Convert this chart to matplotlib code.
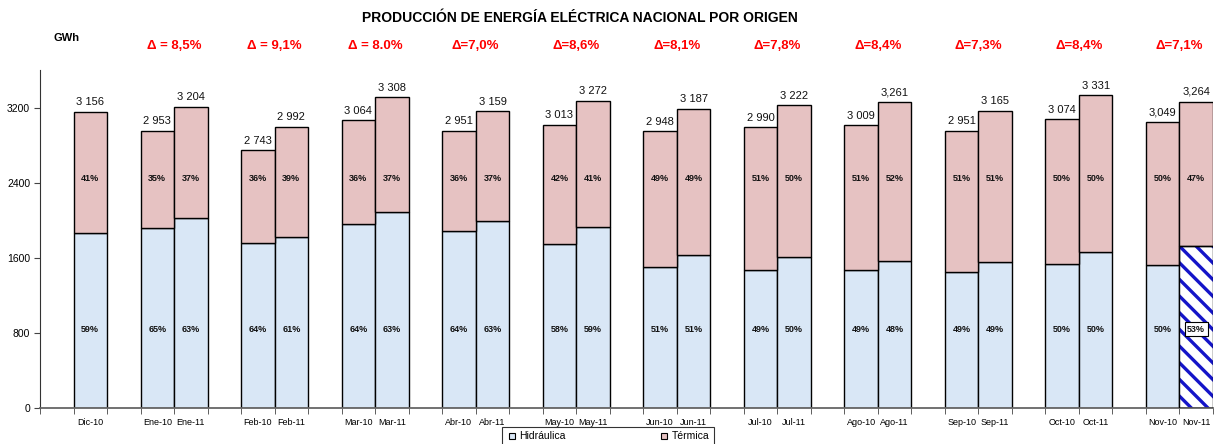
import matplotlib
matplotlib.use("Agg")
import matplotlib.pyplot as plt
from matplotlib.lines import Line2D
import numpy as np

plt.rcParams['font.family'] = ['Liberation Sans', 'DejaVu Sans']
plt.rcParams['hatch.linewidth'] = 2.4

categories = ["Dic-10",
              "Ene-10", "Ene-11", "Feb-10", "Feb-11", "Mar-10", "Mar-11",
              "Abr-10", "Abr-11", "May-10", "May-11", "Jun-10", "Jun-11",
              "Jul-10", "Jul-11", "Ago-10", "Ago-11", "Sep-10", "Sep-11",
              "Oct-10", "Oct-11", "Nov-10", "Nov-11"]
totals = [3156, 2953, 3204, 2743, 2992, 3064, 3308, 2951, 3159, 3013, 3272,
          2948, 3187, 2990, 3222, 3009, 3261, 2951, 3165, 3074, 3331, 3049, 3264]
hydro = [1862, 1919, 2019, 1755, 1825, 1961, 2084, 1889, 1990, 1748, 1930,
         1503, 1625, 1465, 1611, 1474, 1565, 1446, 1551, 1537, 1666, 1525, 1730]
total_labels = ["3 156", "2 953", "3 204", "2 743", "2 992", "3 064", "3 308",
                "2 951", "3 159", "3 013", "3 272", "2 948", "3 187", "2 990",
                "3 222", "3 009", "3,261", "2 951", "3 165", "3 074", "3 331",
                "3,049", "3,264"]
hydro_pct = ["59%", "65%", "63%", "64%", "61%", "64%", "63%", "64%", "63%",
             "58%", "59%", "51%", "51%", "49%", "50%", "49%", "48%", "49%",
             "49%", "50%", "50%", "50%", "53%"]
thermal_pct = ["41%", "35%", "37%", "36%", "39%", "36%", "37%", "36%", "37%",
               "42%", "41%", "49%", "49%", "51%", "50%", "51%", "52%", "51%",
               "51%", "50%", "50%", "50%", "47%"]
deltas = ["Δ = 8,5%", "Δ = 9,1%", "Δ = 8.0%", "Δ=7,0%", "Δ=8,6%", "Δ=8,1%",
          "Δ=7,8%", "Δ=8,4%", "Δ=7,3%", "Δ=8,4%", "Δ=7,1%"]
yticks = [0, 800, 1600, 2400, 3200]

thermal = [t - h for t, h in zip(totals, hydro)]

# slot layout: blank, Dic-10, then (blank, x-10, x-11) * 11
pos = [1] + [s for i in range(11) for s in (3 + 3 * i, 4 + 3 * i)]
pos = np.array(pos, dtype=float)

HYD = '#d9e7f6'
TER = '#e6c2c2'

fig = plt.figure(figsize=(12.18, 4.44), dpi=100)
ax = fig.add_axes([40 / 1218, 36 / 444, 1173 / 1218, 338 / 444])

n = len(categories)
for i in range(n):
    if i == n - 1:
        ax.bar(pos[i], hydro[i], width=1.0, color='white', edgecolor='#1414c8',
               hatch='\\\\', linewidth=0, zorder=2)
        ax.bar(pos[i], hydro[i], width=1.0, color='none', edgecolor='black',
               linewidth=1.0, zorder=3)
    else:
        ax.bar(pos[i], hydro[i], width=1.0, color=HYD, edgecolor='black',
               linewidth=1.0, zorder=2)
ax.bar(pos, thermal, bottom=hydro, width=1.0, color=TER, edgecolor='black',
       linewidth=1.0, zorder=2)

for i in range(n):
    ax.text(pos[i], totals[i] + 50, total_labels[i], ha='center', va='bottom',
            fontsize=8, color='#111111')
    ax.text(pos[i], 2440, thermal_pct[i], ha='center', va='center',
            fontsize=6.5, fontweight='bold', color='#111111', zorder=4)
    if i == n - 1:
        ax.text(pos[i], 840, hydro_pct[i], ha='center', va='center',
                fontsize=6.5, fontweight='bold', color='#111111', zorder=4,
                bbox=dict(boxstyle='square,pad=0.3', fc='white', ec='black', lw=0.8))
    else:
        ax.text(pos[i], 840, hydro_pct[i], ha='center', va='center',
                fontsize=6.5, fontweight='bold', color='#111111', zorder=4)

for k in range(11):
    xc = (pos[1 + 2 * k] + pos[2 + 2 * k]) / 2
    ax.text(xc, 3860, deltas[k], ha='center', va='center', fontsize=9.5,
            fontweight='bold', color='#ff0000', clip_on=False)

ax.set_xlim(-0.5, 34.5)
ax.set_ylim(0, 3600)
ax.set_yticks(yticks)
ax.set_yticklabels([str(v) for v in yticks], fontsize=7.5)
ax.set_xticks(pos)
ax.set_xticklabels(categories, fontsize=6.5)
ax.set_xticks(np.arange(-0.5, 35, 1.0), minor=True)
ax.tick_params(axis='x', which='major', length=0, pad=7)
ax.tick_params(axis='x', which='minor', length=4, direction='out', color='#444444')
ax.tick_params(axis='y', length=4, direction='out', color='#444444', pad=3)

for s in ['top', 'right']:
    ax.spines[s].set_visible(False)
ax.spines['left'].set_color('#333333')
ax.spines['bottom'].set_color('#666666')
ax.spines['bottom'].set_linewidth(1.3)

fig.text(580 / 1218, 1 - 18 / 444,
         "PRODUCCIÓN DE ENERGÍA ELÉCTRICA NACIONAL POR ORIGEN",
         ha='center', va='center', fontsize=10, fontweight='bold')
fig.text(54 / 1218, 1 - 38 / 444, "GWh", ha='left', va='center',
         fontsize=8, fontweight='bold')

handles = [Line2D([], [], marker='s', linestyle='none', markersize=5,
                  markerfacecolor=HYD, markeredgecolor='black', markeredgewidth=0.8),
           Line2D([], [], marker='s', linestyle='none', markersize=5,
                  markerfacecolor=TER, markeredgecolor='black', markeredgewidth=0.8)]
leg = fig.legend(handles, ["Hidráulica", "Térmica"], ncol=2,
                 loc='upper center', bbox_to_anchor=(608 / 1218, 1 - 422 / 444),
                 fontsize=7.5, frameon=True, fancybox=False, edgecolor='black',
                 columnspacing=9, handletextpad=0.2, borderpad=0.4,
                 handlelength=1.0)
leg.get_frame().set_linewidth(0.8)

fig.savefig("out.png", dpi=100)
